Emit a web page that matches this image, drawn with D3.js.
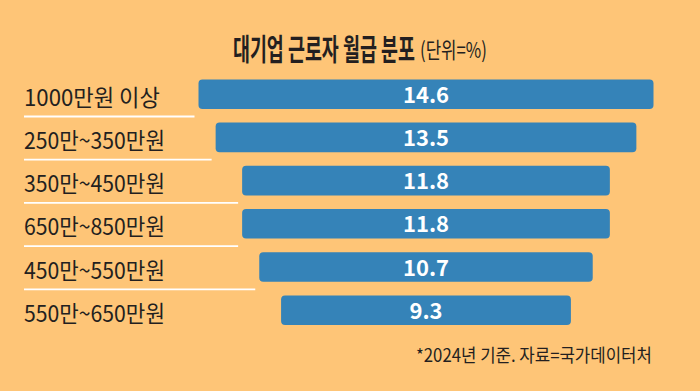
<!DOCTYPE html>
<html>
<head>
<meta charset="utf-8">
<script src="https://cdn.jsdelivr.net/npm/d3@7"></script>
<style>
	html, body { margin: 0; padding: 0; background: #fec577; }
	svg { display: block; }
	text { font-family: 'Noto Sans CJK KR', 'Noto Sans', sans-serif; }
</style>
</head>
<body>
<svg id="chart"></svg>
<script>
const categories = [
	'1000만원 이상',
	'250만~350만원',
	'350만~450만원',
	'650만~850만원',
	'450만~550만원',
	'550만~650만원'
];
const values = [14.6, 13.5, 11.8, 11.8, 10.7, 9.3];
const title = '대기업 근로자 월급 분포';
const unitLabel = '(단위=%)';
const footnote = '*2024년 기준. 자료=국가데이터처';

const totalWidth = 700;
const totalHeight = 391;
const BG = '#fec577';
const BAR_COLOR = '#3583b8';
const INK = '#231f20';
const CENTER_X = 426;
const LABEL_X = 24;

// put a text at (x, y) and squeeze it horizontally to the width of the original type
function condenseAt(sel, x, y, targetWidth) {
	sel.each(function () {
		const w = this.getComputedTextLength();
		const k = w > 0 ? targetWidth / w : 1;
		d3.select(this)
			.attr('x', 0)
			.attr('y', 0)
			.attr('transform', `translate(${x}, ${y}) scale(${k}, 1)`);
	});
}

const svg = d3
	.select('#chart')
	.attr('width', totalWidth)
	.attr('height', totalHeight)
	.attr('viewBox', `0 0 ${totalWidth} ${totalHeight}`);

svg.append('rect').attr('width', totalWidth).attr('height', totalHeight).attr('fill', BG);

/** SCALES ******************************************************************/
const xScale = d3.scaleLinear([0, 14.6], [0, 455]);
const yScale = d3
	.scaleBand(categories, [72.6, 331.8])
	.paddingInner(0.315)
	.paddingOuter(0.1575);
const bw = yScale.bandwidth();

/** TITLE *******************************************************************/
const titleText = svg
	.append('text')
	.attr('font-size', 30)
	.attr('font-weight', 700)
	.attr('fill', INK)
	.text(title);
condenseAt(titleText, 233, 60, 182);

const unitText = svg
	.append('text')
	.attr('font-size', 22)
	.attr('fill', INK)
	.text(unitLabel);
condenseAt(unitText, 420, 58, 67);

/** SEPARATORS **************************************************************/
svg
	.append('g')
	.selectAll('line')
	.data(categories.slice(0, -1))
	.join('line')
	.attr('x1', LABEL_X)
	.attr('x2', (d, i) => CENTER_X - xScale(values[i]) / 2 - 4)
	.attr('y1', (d) => yScale(d) + bw + 7.5)
	.attr('y2', (d) => yScale(d) + bw + 7.5)
	.attr('stroke', '#fff')
	.attr('stroke-width', 1.8);

/** LABELS ******************************************************************/
svg
	.append('g')
	.selectAll('text')
	.data(categories)
	.join('text')
	.attr('font-size', 23)
	.attr('fill', INK)
	.text((d) => d)
	.each(function (d, i) {
		condenseAt(d3.select(this), LABEL_X, yScale(d) + bw / 2 + 11.5, i === 0 ? 136 : 141);
	});

/** BARS ********************************************************************/
svg
	.append('g')
	.selectAll('rect')
	.data(values)
	.join('rect')
	.attr('x', (d) => CENTER_X - xScale(d) / 2)
	.attr('y', (d, i) => yScale(categories[i]))
	.attr('width', (d) => xScale(d))
	.attr('height', bw)
	.attr('rx', 4)
	.attr('fill', BAR_COLOR);

svg
	.append('g')
	.selectAll('text')
	.data(values)
	.join('text')
	.attr('x', CENTER_X)
	.attr('y', (d, i) => yScale(categories[i]) + bw / 2 + 8.5)
	.attr('text-anchor', 'middle')
	.attr('font-family', 'Roboto, sans-serif')
	.attr('font-size', 22)
	.attr('font-weight', 700)
	.attr('fill', '#fff')
	.text((d) => d.toFixed(1));

/** FOOTNOTE ****************************************************************/
const foot = svg
	.append('text')
	.attr('font-size', 18)
	.attr('fill', INK)
	.text(footnote);
condenseAt(foot, 416, 362, 236);
</script>
</body>
</html>
